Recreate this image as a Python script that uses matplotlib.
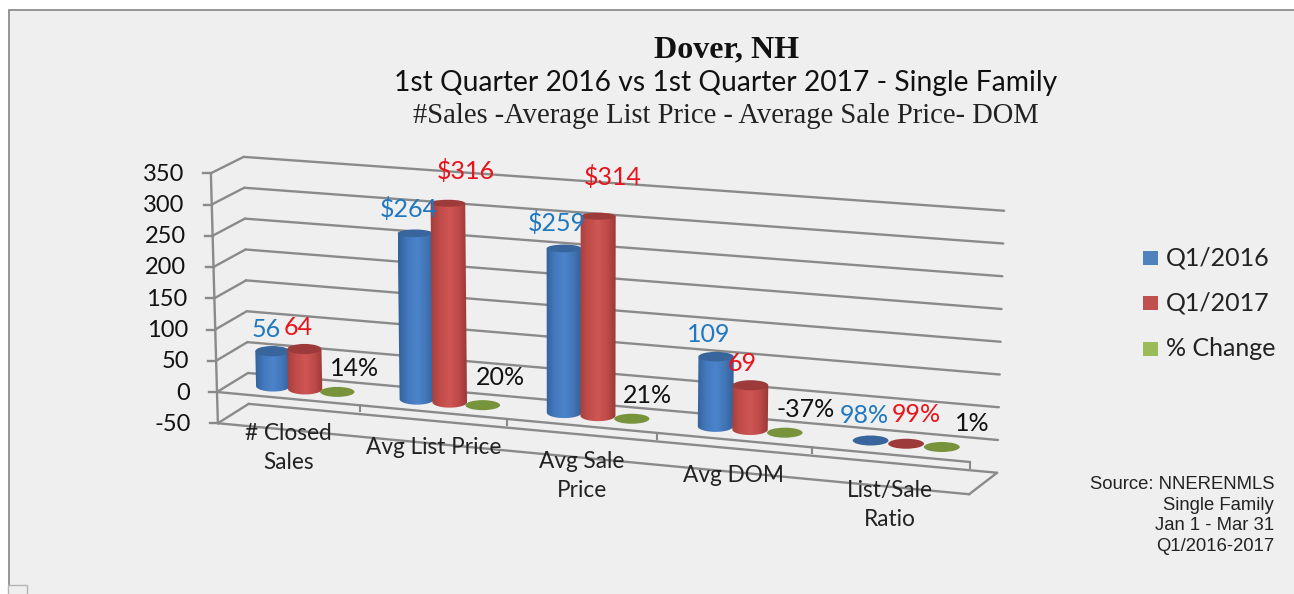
import numpy as np
import matplotlib
matplotlib.use('Agg')
import matplotlib.pyplot as plt
from matplotlib.colors import LinearSegmentedColormap
from matplotlib.patches import Ellipse, Polygon, Rectangle

# Datos
categories = ['# Closed\nSales', 'Avg List Price', 'Avg Sale\nPrice', 'Avg DOM', 'List/Sale\nRatio']
q1_2016 = [56, 264, 259, 109, 0.98]
q1_2017 = [64, 316, 314, 69, 0.99]
pct_change = [0.14, 0.20, 0.21, -0.37, 0.01]
labels_2016 = ['56', '$264', '$259', '109', '98%']
labels_2017 = ['64', '$316', '$314', '69', '99%']
labels_change = ['14%', '20%', '21%', '-37%', '1%']
y_ticks = [-50, 0, 50, 100, 150, 200, 250, 300, 350]
legend_names = ['Q1/2016', 'Q1/2017', '% Change']
source_text = 'Source: NNERENMLS\nSingle Family\nJan 1 - Mar 31\nQ1/2016-2017'

# Posicion de las etiquetas respecto a la parte superior de cada barra (px)
offs_2016 = [(-6, -22), (-6, -24), (-7, -25), (-7, -22), (-6, -24)]
offs_2017 = [(-6, -22), (18, -32), (15, -39), (-8, -22), (10, -29)]
offs_change = [(17, -23), (18, -28), (16, -23), (21, -23), (30, -23)]

BLUE = ['#32609a', '#4479bd', '#4c84cc', '#4174b4', '#2f5b92']
RED = ['#a03f3d', '#c04c4a', '#cf5654', '#bd4a48', '#923634']
GRID = '#8a8a8a'
BG = '#efefef'
LATO = 'Lato'

fig = plt.figure(figsize=(12.94, 5.94), dpi=100, facecolor='white')
ax = fig.add_axes([0, 0, 1, 1])
ax.set_axis_off()

# Esquinas del piso 3D en v=0: x, y, escala x, escala y
FL = np.array([217.0, 392.0, -0.0175, 0.625])
FR = np.array([970.0, 462.0, 0.0175, 0.645])
BL = np.array([248.0, 373.0, -0.0125, 0.6175])
BR = np.array([998.0, 440.0, 0.0175, 0.655])
K = 1.066
N = len(categories)
BAR_STEP = 0.225
BAR_DX = 1.7
MAX_VALUE = max(q1_2017)


# Proyeccion: categoria (0..N), profundidad (0 frente, 1 fondo), valor
def project(cat, depth, value):
    u = cat / N
    t = u / (u + K * (1 - u))
    left = FL + (BL - FL) * depth
    right = FR + (BR - FR) * depth
    p = left + (right - left) * t
    return p[0] + p[2] * value, p[1] - p[3] * value


def line3d(c0, d0, v0, c1, d1, v1, **kw):
    a = project(c0, d0, v0)
    b = project(c1, d1, v1)
    ax.plot([a[0], b[0]], [a[1], b[1]], color=GRID, solid_capstyle='round', **kw)


# Fondo
ax.add_patch(Rectangle((9, 9.5), 1290, 590, facecolor=BG, edgecolor='#8e8e8e', lw=1.3, zorder=0))
ax.add_patch(Rectangle((8, 585), 19, 12, facecolor=BG, edgecolor='#b4b4b4', lw=1.0, zorder=1))

# Rejilla: pared izquierda y pared del fondo
for v in y_ticks:
    line3d(0, 1, v, N, 1, v, lw=1.7, zorder=2)
    line3d(0, 0, v, 0, 1, v, lw=1.7, zorder=2)
    x, y = project(0, 0, v)
    ax.plot([x - 8, x], [y, y], color=GRID, lw=1.7, zorder=2)
    ax.text(x - 27, y + 1, str(v), ha='right', va='center', fontsize=17, family=LATO, color='#111111', zorder=6)

line3d(0, 0, 350, 0, 0, -50, lw=1.7, zorder=2)

# Piso en -50 y eje de categorias en 0
line3d(0, 0, -50, N, 0, -50, lw=1.7, zorder=2)
line3d(N, 0, -50, N, 1, -50, lw=1.7, zorder=2)
line3d(0, 0, 0, N, 0, 0, lw=1.7, zorder=2)
for i in range(1, N + 1):
    a = project(i, 0, 0)
    ax.plot([a[0], a[0]], [a[1], a[1] + 6], color=GRID, lw=1.5, zorder=2)


def cylinder(cat, value, colors, top_color, z):
    x0, y0 = project(cat, 0.5, 0)
    x1, y1 = project(cat, 0.5, value)
    x0 += BAR_DX
    x1 += BAR_DX
    w = 17.0 * (1 + 0.06 * cat / N)
    h = 5.5
    if abs(y1 - y0) < 2:
        ax.add_patch(Ellipse((x0, y0), 2 * w, 2 * h - 1, facecolor=top_color, edgecolor='none', zorder=z + 0.2))
        return x1, y1
    # la tapa se aplana cuanto mas alta esta la barra
    h_top = h - 2.0 * abs(value) / MAX_VALUE
    th = np.linspace(np.pi, 0, 40)
    arc_x = x0 + w * np.cos(th)
    arc_y = y0 + h * np.sin(th)
    pts = [(x1 - w, y1)] + list(zip(arc_x, arc_y)) + [(x1 + w, y1)]
    body = Polygon(pts, closed=True, facecolor='none', edgecolor='none', transform=ax.transData)
    ax.add_patch(body)
    cmap = LinearSegmentedColormap.from_list('c', colors)
    im = ax.imshow(np.linspace(0, 1, 64).reshape(1, -1), cmap=cmap, aspect='auto',
                   extent=(x0 - w - 2, x0 + w + 2, y0 + h + 1, y1 - h - 1), zorder=z, interpolation='bilinear')
    im.set_clip_path(body)
    ax.add_patch(Ellipse((x1, y1), 2 * w, 2 * h_top, facecolor=top_color, edgecolor='none', zorder=z + 0.2))
    return x1, y1


def put_label(x, y, off, txt, color):
    ax.text(x + off[0], y + off[1], txt, ha='center', va='center', fontsize=18, family=LATO, color=color, zorder=7)


# Barras
for i in range(N):
    c = i + 0.5
    x, y = cylinder(c - BAR_STEP, q1_2016[i], BLUE, '#38659c', 3 + i * 0.01)
    put_label(x, y, offs_2016[i], labels_2016[i], '#1f78c0')
    x, y = cylinder(c, q1_2017[i], RED, '#9c3b39', 3.5 + i * 0.01)
    put_label(x, y, offs_2017[i], labels_2017[i], '#e8141c')
    x, y = cylinder(c + BAR_STEP, pct_change[i], BLUE, '#77933c', 4 + i * 0.01)
    put_label(x, y, offs_change[i], labels_change[i], '#111111')
    # Etiquetas de categoria
    lx, ly = project(c, 0, -50)
    ax.text(lx, ly - 7, categories[i], ha='center', va='top', fontsize=16.3, family=LATO,
            color='#222222', linespacing=1.48, zorder=6)

# Titulos
ax.text(726, 50, 'Dover, NH', ha='center', va='center', fontsize=23, fontweight='bold',
        family='Liberation Serif', color='#111111', zorder=6)
ax.text(726, 83, '1st Quarter 2016 vs 1st Quarter 2017 - Single Family', ha='center', va='center',
        fontsize=20.3, family=LATO, color='#111111', zorder=6)
ax.text(726, 116, '#Sales -Average List Price - Average Sale Price- DOM', ha='center', va='center',
        fontsize=20.6, family='Liberation Serif', color='#222222', zorder=6)

# Leyenda
legend_colors = ['#4f81bd', '#c0504d', '#9bbb59']
for i, name in enumerate(legend_names):
    ly = 258 + i * 45.3
    ax.add_patch(Rectangle((1143, ly - 7), 15, 14, facecolor=legend_colors[i], edgecolor='none', zorder=6))
    ax.text(1166, ly, name, ha='left', va='center', fontsize=18, family=LATO, color='#222222', zorder=6)

# Fuente
ax.text(1274, 515.5, source_text, ha='right', va='center', fontsize=13.3, family='Liberation Sans',
        color='#222222', linespacing=1.28, zorder=6)

ax.set_xlim(0, 1294)
ax.set_ylim(594, 0)
fig.savefig('out.png', dpi=100)
